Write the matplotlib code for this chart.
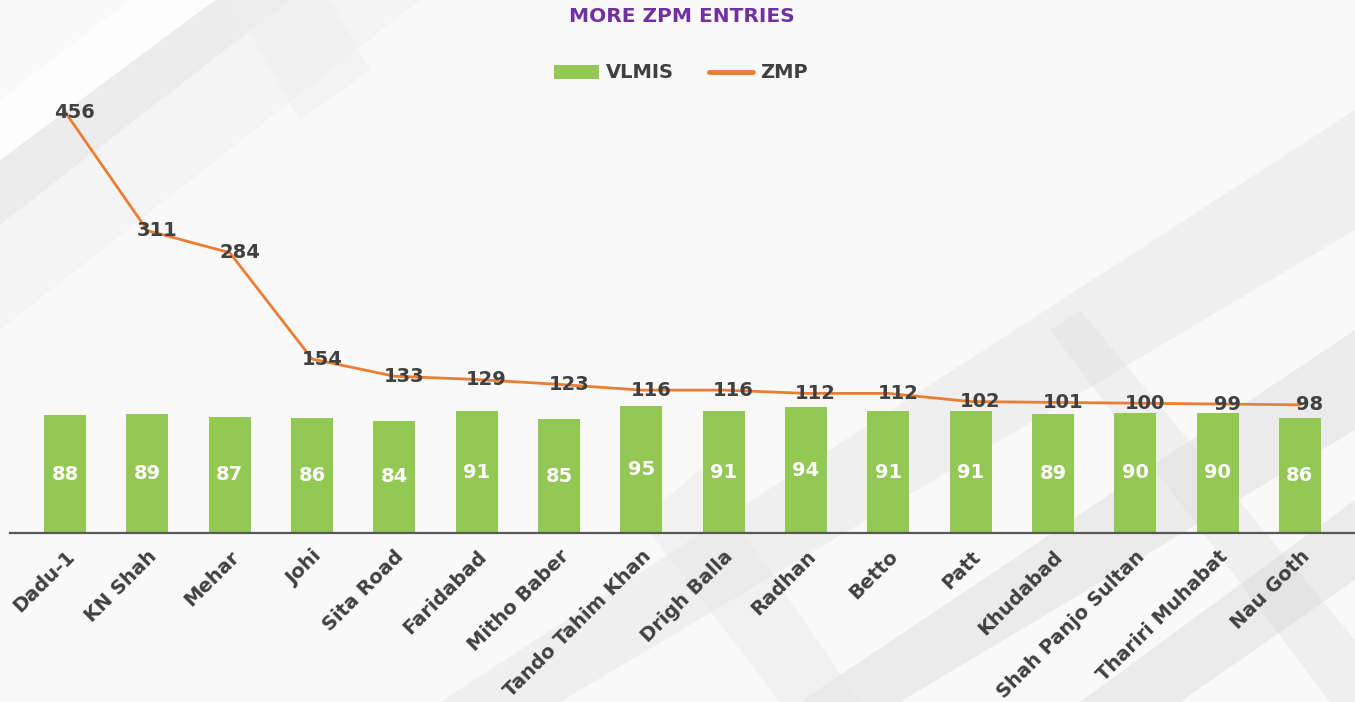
import matplotlib
matplotlib.use("Agg")
import matplotlib.pyplot as plt
from matplotlib.patches import Patch, Polygon
from matplotlib.lines import Line2D

# data
sites = ["Dadu-1", "KN Shah", "Mehar", "Johi", "Sita Road", "Faridabad",
         "Mitho Baber", "Tando Tahim Khan", "Drigh Balla", "Radhan", "Betto",
         "Patt", "Khudabad", "Shah Panjo Sultan", "Thariri Muhabat", "Nau Goth"]
vlmis = [88, 89, 87, 86, 84, 91, 85, 95, 91, 94, 91, 91, 89, 90, 90, 86]
zmp = [456, 311, 284, 154, 133, 129, 123, 116, 116, 112, 112, 102, 101, 100, 99, 98]

GREEN = "#92C853"
ORANGE = "#ED7D31"
PURPLE = "#7030A0"
DARK = "#404040"
W, H = 1355, 702

plt.rcParams["font.family"] = ["DejaVu Sans"]

fig = plt.figure(figsize=(W / 100, H / 100), dpi=100)
fig.patch.set_facecolor("#f9f9f9")


def px(x, y):
    return (x / W, 1 - y / H)


# faint diagonal background shapes (decoration only)
shapes = [
    ([(0, 160), (0, 225), (290, 0), (215, 0)], "#e2e2e2", 0.55),
    ([(0, 225), (0, 330), (420, 0), (290, 0)], "#f2f2f2", 0.6),
    ([(0, 100), (0, 160), (215, 0), (130, 0)], "#ffffff", 0.8),
    ([(230, 0), (300, 120), (370, 70), (330, 0)], "#eeeeee", 0.5),
    ([(560, 702), (440, 702), (1355, 110), (1355, 230)], "#e4e4e4", 0.45),
    ([(900, 702), (800, 702), (1355, 330), (1355, 430)], "#dcdcdc", 0.45),
    ([(1050, 330), (1080, 310), (1355, 640), (1355, 702), (1330, 702)], "#dddddd", 0.35),
    ([(1180, 702), (1080, 702), (1355, 500), (1355, 580)], "#d2d2d2", 0.35),
    ([(640, 520), (700, 470), (860, 702), (780, 702)], "#e6e6e6", 0.4),
]
for pts, col, a in shapes:
    fig.add_artist(Polygon([px(*p) for p in pts], closed=True, transform=fig.transFigure,
                           facecolor=col, edgecolor="none", alpha=a, zorder=0))

ax = fig.add_axes([10 / W, (H - 533) / H, 1 - 10 / W, 438 / H])
ax.set_facecolor("none")
x = list(range(len(sites)))

ax.bar(x, vlmis, width=0.51, color=GREEN, zorder=2)
ax.set_xlim(-0.67, len(sites) - 0.33)
ax.set_ylim(0, 328)
for i, v in zip(x, vlmis):
    ax.text(i, v / 2, str(v), ha="center", va="center", color="white",
            fontsize=14, fontweight="bold", zorder=3)

ax.set_xticks(x)
ax.set_xticklabels(sites, rotation=45, ha="right", rotation_mode="anchor",
                   fontsize=14, fontweight="bold", color=DARK)
ax.tick_params(axis="x", length=0, pad=10)
ax.set_yticks([])
for s in ["top", "left", "right"]:
    ax.spines[s].set_visible(False)
ax.spines["bottom"].set_color("#595959")
ax.spines["bottom"].set_linewidth(1.6)

ax2 = ax.twinx()
ax2.plot(x, zmp, color=ORANGE, lw=2, zorder=3)
ax2.set_ylim(-58.7, 476.8)
ax2.set_yticks([])
for s in ["top", "left", "right", "bottom"]:
    ax2.spines[s].set_visible(False)
for i, v in zip(x, zmp):
    ax2.annotate(str(v), (i, v), xytext=(7, 0), textcoords="offset points",
                 ha="center", va="center", fontsize=14, fontweight="bold", color=DARK)

fig.text(0.503, 1 - 17 / H, "MORE ZPM ENTRIES", ha="center", va="center",
         fontsize=14.5, fontweight="bold", color=PURPLE)

handles = [Patch(facecolor=GREEN, edgecolor="none"),
           Line2D([0], [0], color=ORANGE, lw=3.5, solid_capstyle="round")]
leg = fig.legend(handles, ["VLMIS", "ZMP"], loc="center", bbox_to_anchor=(681 / W, 1 - 73 / H),
                 ncol=2, frameon=False, handlelength=2.3, handleheight=0.75,
                 columnspacing=1.8, handletextpad=0.35,
                 prop={"size": 14, "weight": "bold"})
for t in leg.get_texts():
    t.set_color(DARK)

fig.savefig("out.png", dpi=100, facecolor=fig.get_facecolor())
